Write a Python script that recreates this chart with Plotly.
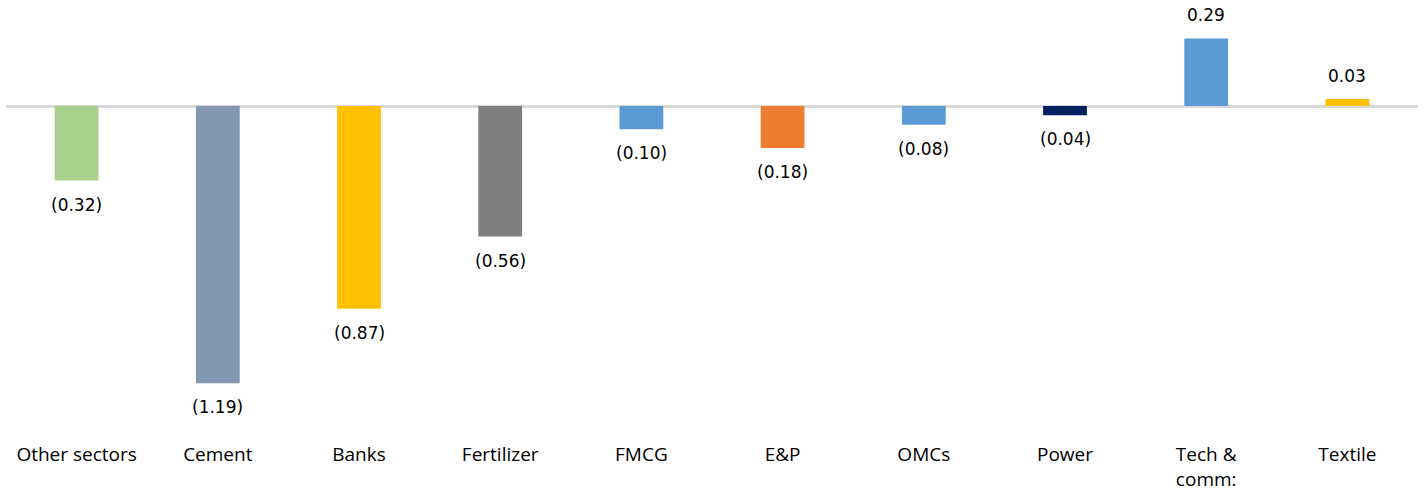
import plotly.graph_objects as go

sectors = ["Other sectors", "Cement", "Banks", "Fertilizer", "FMCG", "E&P",
           "OMCs", "Power", "Tech &<br>comm:", "Textile"]
values = [-0.32, -1.19, -0.87, -0.56, -0.10, -0.18, -0.08, -0.04, 0.29, 0.03]
colors = ["#a9d18e", "#8497b0", "#ffc000", "#7f7f7f", "#5b9bd5", "#ed7d31",
          "#5b9bd5", "#002060", "#5b9bd5", "#ffc000"]


def fmt(v):
    return f"({abs(v):.2f})" if v < 0 else f"{v:.2f}"


fig = go.Figure(go.Bar(
    x=sectors, y=values, marker=dict(color=colors, line=dict(width=0)),
    width=0.31, hoverinfo="skip",
))

for s, v in zip(sectors, values):
    fig.add_annotation(
        x=s, y=v, text=fmt(v), showarrow=False,
        yanchor="middle", yshift=23 if v > 0 else -24,
        font=dict(family="DejaVu Sans", size=17, color="#000000"),
    )

fig.update_layout(
    width=1427, height=492,
    margin=dict(l=6, r=9, t=0, b=60, autoexpand=False),
    paper_bgcolor="white", plot_bgcolor="white",
    showlegend=False,
    xaxis=dict(showgrid=False, showline=False, ticks="", ticklabelstandoff=9,
               automargin=False,
               tickfont=dict(family="Open Sans", size=19, color="#000000")),
    yaxis=dict(range=[-1.399, 0.455], showgrid=False, showticklabels=False,
               zeroline=True, zerolinecolor="#d9d9d9", zerolinewidth=3,
               layer="above traces"),
)

fig.write_html("out.html")
